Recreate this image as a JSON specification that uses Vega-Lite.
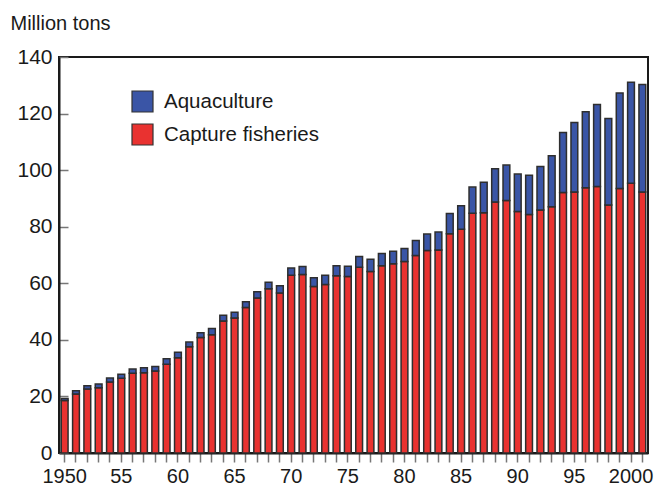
{
  "$schema": "https://vega.github.io/schema/vega-lite/v6.json",
  "autosize": {"type": "none"},
  "width": 589,
  "height": 396,
  "padding": {"left": 59, "top": 57, "right": 7, "bottom": 36},
  "background": "white",
  "config": {
    "font": "Liberation Sans",
    "view": {"stroke": "#1a1a1a", "strokeWidth": 2}
  },
  "data": {
    "values": [
      {"year": 1950, "type": "Capture fisheries", "tons": 18.6}, {"year": 1950, "type": "Aquaculture", "tons": 0.7},
      {"year": 1951, "type": "Capture fisheries", "tons": 20.9}, {"year": 1951, "type": "Aquaculture", "tons": 1.1},
      {"year": 1952, "type": "Capture fisheries", "tons": 22.6}, {"year": 1952, "type": "Aquaculture", "tons": 1.2},
      {"year": 1953, "type": "Capture fisheries", "tons": 23.1}, {"year": 1953, "type": "Aquaculture", "tons": 1.3},
      {"year": 1954, "type": "Capture fisheries", "tons": 25.1}, {"year": 1954, "type": "Aquaculture", "tons": 1.4},
      {"year": 1955, "type": "Capture fisheries", "tons": 26.4}, {"year": 1955, "type": "Aquaculture", "tons": 1.4},
      {"year": 1956, "type": "Capture fisheries", "tons": 28.2}, {"year": 1956, "type": "Aquaculture", "tons": 1.5},
      {"year": 1957, "type": "Capture fisheries", "tons": 28.4}, {"year": 1957, "type": "Aquaculture", "tons": 1.7},
      {"year": 1958, "type": "Capture fisheries", "tons": 29.0}, {"year": 1958, "type": "Aquaculture", "tons": 1.6},
      {"year": 1959, "type": "Capture fisheries", "tons": 31.4}, {"year": 1959, "type": "Aquaculture", "tons": 1.9},
      {"year": 1960, "type": "Capture fisheries", "tons": 33.7}, {"year": 1960, "type": "Aquaculture", "tons": 1.9},
      {"year": 1961, "type": "Capture fisheries", "tons": 37.6}, {"year": 1961, "type": "Aquaculture", "tons": 1.6},
      {"year": 1962, "type": "Capture fisheries", "tons": 40.8}, {"year": 1962, "type": "Aquaculture", "tons": 1.7},
      {"year": 1963, "type": "Capture fisheries", "tons": 41.8}, {"year": 1963, "type": "Aquaculture", "tons": 2.2},
      {"year": 1964, "type": "Capture fisheries", "tons": 46.7}, {"year": 1964, "type": "Aquaculture", "tons": 2.0},
      {"year": 1965, "type": "Capture fisheries", "tons": 47.7}, {"year": 1965, "type": "Aquaculture", "tons": 2.1},
      {"year": 1966, "type": "Capture fisheries", "tons": 51.4}, {"year": 1966, "type": "Aquaculture", "tons": 2.1},
      {"year": 1967, "type": "Capture fisheries", "tons": 54.8}, {"year": 1967, "type": "Aquaculture", "tons": 2.2},
      {"year": 1968, "type": "Capture fisheries", "tons": 58.1}, {"year": 1968, "type": "Aquaculture", "tons": 2.3},
      {"year": 1969, "type": "Capture fisheries", "tons": 56.6}, {"year": 1969, "type": "Aquaculture", "tons": 2.5},
      {"year": 1970, "type": "Capture fisheries", "tons": 62.8}, {"year": 1970, "type": "Aquaculture", "tons": 2.6},
      {"year": 1971, "type": "Capture fisheries", "tons": 63.1}, {"year": 1971, "type": "Aquaculture", "tons": 2.8},
      {"year": 1972, "type": "Capture fisheries", "tons": 58.9}, {"year": 1972, "type": "Aquaculture", "tons": 3.1},
      {"year": 1973, "type": "Capture fisheries", "tons": 59.6}, {"year": 1973, "type": "Aquaculture", "tons": 3.2},
      {"year": 1974, "type": "Capture fisheries", "tons": 62.7}, {"year": 1974, "type": "Aquaculture", "tons": 3.5},
      {"year": 1975, "type": "Capture fisheries", "tons": 62.4}, {"year": 1975, "type": "Aquaculture", "tons": 3.6},
      {"year": 1976, "type": "Capture fisheries", "tons": 65.7}, {"year": 1976, "type": "Aquaculture", "tons": 3.8},
      {"year": 1977, "type": "Capture fisheries", "tons": 64.2}, {"year": 1977, "type": "Aquaculture", "tons": 4.3},
      {"year": 1978, "type": "Capture fisheries", "tons": 66.2}, {"year": 1978, "type": "Aquaculture", "tons": 4.3},
      {"year": 1979, "type": "Capture fisheries", "tons": 66.9}, {"year": 1979, "type": "Aquaculture", "tons": 4.4},
      {"year": 1980, "type": "Capture fisheries", "tons": 67.7}, {"year": 1980, "type": "Aquaculture", "tons": 4.6},
      {"year": 1981, "type": "Capture fisheries", "tons": 69.8}, {"year": 1981, "type": "Aquaculture", "tons": 5.3},
      {"year": 1982, "type": "Capture fisheries", "tons": 71.6}, {"year": 1982, "type": "Aquaculture", "tons": 5.8},
      {"year": 1983, "type": "Capture fisheries", "tons": 71.8}, {"year": 1983, "type": "Aquaculture", "tons": 6.3},
      {"year": 1984, "type": "Capture fisheries", "tons": 77.5}, {"year": 1984, "type": "Aquaculture", "tons": 7.2},
      {"year": 1985, "type": "Capture fisheries", "tons": 79.1}, {"year": 1985, "type": "Aquaculture", "tons": 8.3},
      {"year": 1986, "type": "Capture fisheries", "tons": 84.8}, {"year": 1986, "type": "Aquaculture", "tons": 9.2},
      {"year": 1987, "type": "Capture fisheries", "tons": 84.9}, {"year": 1987, "type": "Aquaculture", "tons": 10.8},
      {"year": 1988, "type": "Capture fisheries", "tons": 88.7}, {"year": 1988, "type": "Aquaculture", "tons": 11.8},
      {"year": 1989, "type": "Capture fisheries", "tons": 89.3}, {"year": 1989, "type": "Aquaculture", "tons": 12.5},
      {"year": 1990, "type": "Capture fisheries", "tons": 85.4}, {"year": 1990, "type": "Aquaculture", "tons": 13.2},
      {"year": 1991, "type": "Capture fisheries", "tons": 84.3}, {"year": 1991, "type": "Aquaculture", "tons": 13.9},
      {"year": 1992, "type": "Capture fisheries", "tons": 85.9}, {"year": 1992, "type": "Aquaculture", "tons": 15.4},
      {"year": 1993, "type": "Capture fisheries", "tons": 87.1}, {"year": 1993, "type": "Aquaculture", "tons": 18.0},
      {"year": 1994, "type": "Capture fisheries", "tons": 92.1}, {"year": 1994, "type": "Aquaculture", "tons": 21.2},
      {"year": 1995, "type": "Capture fisheries", "tons": 92.3}, {"year": 1995, "type": "Aquaculture", "tons": 24.5},
      {"year": 1996, "type": "Capture fisheries", "tons": 93.8}, {"year": 1996, "type": "Aquaculture", "tons": 26.8},
      {"year": 1997, "type": "Capture fisheries", "tons": 94.2}, {"year": 1997, "type": "Aquaculture", "tons": 29.0},
      {"year": 1998, "type": "Capture fisheries", "tons": 87.7}, {"year": 1998, "type": "Aquaculture", "tons": 30.6},
      {"year": 1999, "type": "Capture fisheries", "tons": 93.5}, {"year": 1999, "type": "Aquaculture", "tons": 33.8},
      {"year": 2000, "type": "Capture fisheries", "tons": 95.4}, {"year": 2000, "type": "Aquaculture", "tons": 35.7},
      {"year": 2001, "type": "Capture fisheries", "tons": 92.3}, {"year": 2001, "type": "Aquaculture", "tons": 38.0}
    ]
  },
  "mark": {"type": "bar", "stroke": "#2e2e2e", "strokeWidth": 1.5},
  "encoding": {
    "x": {
      "field": "year",
      "type": "ordinal",
      "scale": {"paddingInner": 0.4, "paddingOuter": 0.2},
      "axis": {
        "title": null,
        "labelAngle": 0,
        "labelOverlap": false,
        "labelFontSize": 20,
        "labelColor": "#1a1a1a",
        "labelPadding": 4,
        "tickSize": 9,
        "tickColor": "#777",
        "tickWidth": 1.5,
        "domainColor": "#1a1a1a",
        "domainWidth": 2,
        "labelExpr": "datum.value % 5 != 0 ? '' : ((datum.value == 1950 || datum.value == 2000) ? '' + datum.value : slice('' + datum.value, 2))"
      }
    },
    "y": {
      "field": "tons",
      "type": "quantitative",
      "aggregate": "sum",
      "stack": "zero",
      "scale": {"domain": [0, 140], "nice": false},
      "axis": {
        "title": "Million tons",
        "titleAngle": 0,
        "titleX": -49,
        "titleY": -28,
        "titleAlign": "left",
        "titleBaseline": "alphabetic",
        "titleFontSize": 20,
        "titleFontWeight": "normal",
        "titleColor": "#1a1a1a",
        "values": [0, 20, 40, 60, 80, 100, 120, 140],
        "grid": false,
        "tickSize": -9,
        "tickColor": "#777",
        "tickWidth": 1.5,
        "labelPadding": 16,
        "labelFontSize": 21,
        "labelColor": "#1a1a1a",
        "domainColor": "#1a1a1a",
        "domainWidth": 2
      }
    },
    "color": {
      "field": "type",
      "type": "nominal",
      "scale": {"domain": ["Aquaculture", "Capture fisheries"], "range": ["#3a55a6", "#e93230"]},
      "legend": {
        "title": null,
        "orient": "none",
        "legendX": 72,
        "legendY": 33,
        "padding": 0,
        "symbolType": "square",
        "symbolSize": 441,
        "symbolStrokeColor": "#333",
        "symbolStrokeWidth": 1.2,
        "symbolOpacity": 1,
        "labelFontSize": 20.5,
        "labelColor": "#1a1a1a",
        "labelOffset": 10,
        "rowPadding": 6
      }
    },
    "order": {"field": "type", "sort": "descending"}
  }
}
